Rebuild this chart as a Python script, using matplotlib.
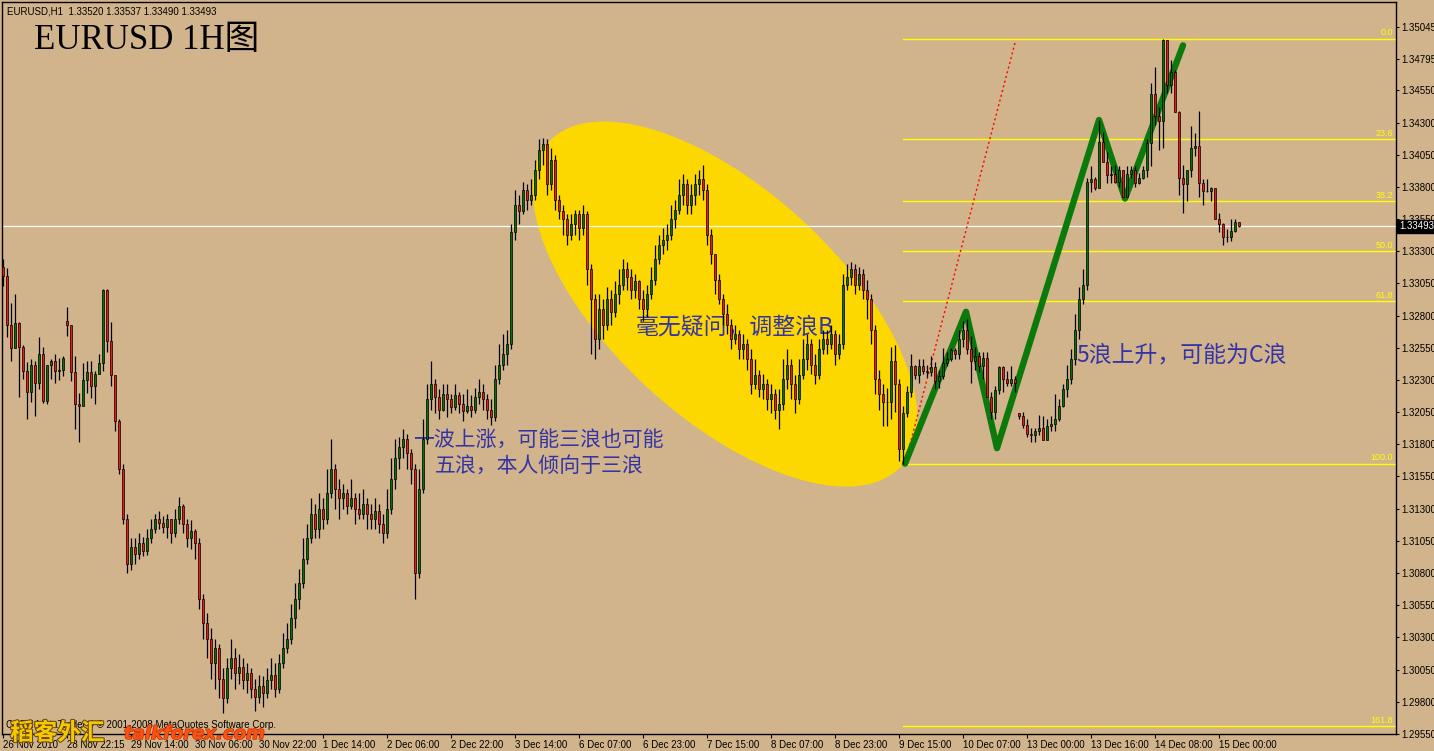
import numpy as np
import matplotlib
matplotlib.use("Agg")
import matplotlib.pyplot as plt
import matplotlib.patheffects as pe
from matplotlib.patches import Ellipse
from matplotlib.transforms import IdentityTransform, blended_transform_factory

# EURUSD H1 candles, 26 Nov 2010 .. 15 Dec 2010
closes = [
    1.3311, 1.3273, 1.3255, 1.3274, 1.3256, 1.3237, 1.3221, 1.3242, 1.3228, 1.3250,
    1.3214, 1.3242, 1.3245, 1.3237, 1.3238, 1.3247, 1.3273, 1.3236, 1.3211, 1.3210,
    1.3230, 1.3236, 1.3225, 1.3235, 1.3243, 1.3300, 1.3260, 1.3234, 1.3198, 1.3161,
    1.3122, 1.3087, 1.3100, 1.3095, 1.3103, 1.3097, 1.3107, 1.3114, 1.3122, 1.3119,
    1.3116, 1.3122, 1.3111, 1.3122, 1.3132, 1.3118, 1.3107, 1.3113, 1.3103, 1.3060,
    1.3041, 1.3029, 1.3010, 1.3022, 1.2998, 1.2983, 1.3006, 1.3014, 1.3002, 1.3007,
    1.2997, 1.3002, 1.2990, 1.2984, 1.2992, 1.2987, 1.2997, 1.3001, 1.2990, 1.3010,
    1.3022, 1.3029, 1.3045, 1.3060, 1.3072, 1.3091, 1.3107, 1.3126, 1.3114, 1.3130,
    1.3122, 1.3142, 1.3161, 1.3145, 1.3138, 1.3142, 1.3132, 1.3138, 1.3130, 1.3126,
    1.3134, 1.3126, 1.3122, 1.3128, 1.3118, 1.3111, 1.3130, 1.3153, 1.3169, 1.3178,
    1.3184, 1.3173, 1.3161, 1.3080, 1.3145, 1.3184, 1.3215, 1.3227, 1.3217, 1.3207,
    1.3219, 1.3215, 1.3209, 1.3218, 1.3211, 1.3206, 1.3210, 1.3207, 1.3217, 1.3221,
    1.3215, 1.3207, 1.3201, 1.3231, 1.3242, 1.3250, 1.3258, 1.3345, 1.3366, 1.3361,
    1.3378, 1.3370, 1.3374, 1.3393, 1.3409, 1.3413, 1.3382, 1.3401, 1.3370, 1.3361,
    1.3355, 1.3343, 1.3351, 1.3359, 1.3348, 1.3359, 1.3316, 1.3293, 1.3262, 1.3285,
    1.3273, 1.3293, 1.3283, 1.3297, 1.3304, 1.3316, 1.3310, 1.3300, 1.3307, 1.3293,
    1.3285, 1.3297, 1.3308, 1.3324, 1.3335, 1.3339, 1.3343, 1.3355, 1.3362, 1.3374,
    1.3382, 1.3366, 1.3374, 1.3382, 1.3386, 1.3378, 1.3343, 1.3328, 1.3308, 1.3293,
    1.3281, 1.3273, 1.3262, 1.3266, 1.3254, 1.3258, 1.3246, 1.3227, 1.3234, 1.3223,
    1.3227, 1.3215, 1.3219, 1.3207, 1.3211, 1.3231, 1.3242, 1.3227, 1.3215, 1.3234,
    1.3246, 1.3258, 1.3242, 1.3234, 1.3254, 1.3262, 1.3258, 1.3266, 1.3250, 1.3258,
    1.3304, 1.3310, 1.3316, 1.3304, 1.3312, 1.3300, 1.3293, 1.3269, 1.3231, 1.3219,
    1.3213, 1.3213, 1.3245, 1.3227, 1.3176, 1.3204, 1.3221, 1.3241, 1.3234, 1.3241,
    1.3237, 1.3236, 1.3240, 1.3229, 1.3233, 1.3243, 1.3246, 1.3253, 1.3250, 1.3262,
    1.3269, 1.3254, 1.3245, 1.3249, 1.3241, 1.3247, 1.3217, 1.3205, 1.3222, 1.3240,
    1.3231, 1.3228, 1.3231, 1.3228, 1.3202, 1.3195, 1.3188, 1.3187, 1.3190, 1.3193,
    1.3183, 1.3194, 1.3196, 1.3200, 1.3210, 1.3223, 1.3231, 1.3246, 1.3269, 1.3293,
    1.3304, 1.3384, 1.3386, 1.3379, 1.3415, 1.3399, 1.3389, 1.3390, 1.3384, 1.3393,
    1.3372, 1.3390, 1.3393, 1.3383, 1.3387, 1.3393, 1.3414, 1.3452, 1.3435, 1.3431,
    1.3494, 1.3459, 1.3469, 1.3438, 1.3387, 1.3382, 1.3393, 1.3410, 1.3412, 1.3383,
    1.3377, 1.3377, 1.3379, 1.3355, 1.3351, 1.3341, 1.3341, 1.3346, 1.3353, 1.33493,
]
highs = [
    1.3324, 1.3317, 1.3290, 1.3297, 1.3275, 1.3257, 1.3244, 1.3246, 1.3245, 1.3263,
    1.3256, 1.3242, 1.3246, 1.3250, 1.3247, 1.3249, 1.3287, 1.3273, 1.3249, 1.3220,
    1.3243, 1.3245, 1.3245, 1.3237, 1.3250, 1.3301, 1.3301, 1.3275, 1.3234, 1.3200,
    1.3165, 1.3126, 1.3107, 1.3107, 1.3111, 1.3108, 1.3114, 1.3122, 1.3126, 1.3128,
    1.3124, 1.3126, 1.3122, 1.3130, 1.3139, 1.3134, 1.3122, 1.3121, 1.3114, 1.3107,
    1.3064, 1.3049, 1.3037, 1.3029, 1.3025, 1.3006, 1.3014, 1.3029, 1.3022, 1.3017,
    1.3014, 1.3010, 1.3006, 1.2998, 1.3001, 1.3000, 1.3006, 1.3014, 1.3010, 1.3017,
    1.3033, 1.3041, 1.3056, 1.3072, 1.3083, 1.3107, 1.3118, 1.3138, 1.3134, 1.3142,
    1.3138, 1.3161, 1.3184, 1.3165, 1.3153, 1.3149, 1.3145, 1.3153, 1.3142, 1.3142,
    1.3145, 1.3138, 1.3134, 1.3138, 1.3134, 1.3126, 1.3145, 1.3169, 1.3184, 1.3186,
    1.3192, 1.3188, 1.3176, 1.3165, 1.3161, 1.3200, 1.3227, 1.3245, 1.3231, 1.3223,
    1.3227, 1.3227, 1.3219, 1.3227, 1.3221, 1.3219, 1.3223, 1.3218, 1.3224, 1.3231,
    1.3227, 1.3219, 1.3215, 1.3242, 1.3258, 1.3266, 1.3269, 1.3351, 1.3378, 1.3374,
    1.3384, 1.3382, 1.3386, 1.3401, 1.3417, 1.3418, 1.3417, 1.3410, 1.3405, 1.3374,
    1.3366, 1.3359, 1.3359, 1.3362, 1.3362, 1.3366, 1.3361, 1.3320, 1.3297, 1.3297,
    1.3293, 1.3302, 1.3300, 1.3307, 1.3316, 1.3324, 1.3322, 1.3316, 1.3312, 1.3308,
    1.3300, 1.3304, 1.3318, 1.3335, 1.3343, 1.3348, 1.3351, 1.3366, 1.3370, 1.3386,
    1.3390, 1.3386, 1.3382, 1.3390, 1.3393, 1.3397, 1.3382, 1.3347, 1.3328, 1.3312,
    1.3297, 1.3289, 1.3277, 1.3273, 1.3269, 1.3266, 1.3262, 1.3254, 1.3246, 1.3238,
    1.3235, 1.3231, 1.3227, 1.3223, 1.3223, 1.3246, 1.3254, 1.3246, 1.3234, 1.3246,
    1.3262, 1.3266, 1.3262, 1.3250, 1.3262, 1.3269, 1.3269, 1.3273, 1.3269, 1.3266,
    1.3312, 1.3320, 1.3322, 1.3320, 1.3318, 1.3316, 1.3308, 1.3297, 1.3273, 1.3238,
    1.3227, 1.3224, 1.3256, 1.3257, 1.3231, 1.3210, 1.3225, 1.3250, 1.3242, 1.3246,
    1.3246, 1.3242, 1.3249, 1.3244, 1.3238, 1.3255, 1.3252, 1.3255, 1.3255, 1.3269,
    1.3276, 1.3277, 1.3264, 1.3256, 1.3252, 1.3252, 1.3252, 1.3221, 1.3225, 1.3241,
    1.3241, 1.3237, 1.3241, 1.3233, 1.3203, 1.3205, 1.3200, 1.3193, 1.3193, 1.3203,
    1.3202, 1.3200, 1.3202, 1.3219, 1.3215, 1.3227, 1.3242, 1.3254, 1.3281, 1.3302,
    1.3316, 1.3387, 1.3396, 1.3388, 1.3432, 1.3423, 1.3407, 1.3396, 1.3397, 1.3396,
    1.3393, 1.3396, 1.3396, 1.3396, 1.3391, 1.3396, 1.3417, 1.3461, 1.3473, 1.3442,
    1.3495, 1.3494, 1.3479, 1.3471, 1.3439, 1.3397, 1.3393, 1.3427, 1.3422, 1.3439,
    1.3386, 1.3386, 1.3380, 1.3379, 1.3360, 1.3352, 1.3347, 1.3355, 1.3355, 1.3352,
]
lows = [
    1.3303, 1.3263, 1.3245, 1.3255, 1.3217, 1.3231, 1.3200, 1.3213, 1.3202, 1.3223,
    1.3212, 1.3211, 1.3231, 1.3228, 1.3230, 1.3233, 1.3264, 1.3229, 1.3192, 1.3182,
    1.3210, 1.3220, 1.3216, 1.3211, 1.3235, 1.3237, 1.3252, 1.3225, 1.3190, 1.3157,
    1.3118, 1.3080, 1.3082, 1.3087, 1.3091, 1.3093, 1.3094, 1.3103, 1.3111, 1.3114,
    1.3111, 1.3107, 1.3103, 1.3108, 1.3118, 1.3111, 1.3100, 1.3099, 1.3091, 1.3052,
    1.3029, 1.3014, 1.2998, 1.2990, 1.2983, 1.2971, 1.2979, 1.2998, 1.2990, 1.2994,
    1.2990, 1.2987, 1.2983, 1.2973, 1.2979, 1.2976, 1.2983, 1.2990, 1.2984, 1.2987,
    1.3006, 1.3018, 1.3025, 1.3037, 1.3052, 1.3068, 1.3087, 1.3103, 1.3107, 1.3107,
    1.3114, 1.3118, 1.3138, 1.3130, 1.3122, 1.3130, 1.3126, 1.3130, 1.3118, 1.3122,
    1.3122, 1.3114, 1.3114, 1.3114, 1.3111, 1.3103, 1.3107, 1.3126, 1.3145, 1.3161,
    1.3169, 1.3161, 1.3149, 1.3060, 1.3076, 1.3142, 1.3180, 1.3207, 1.3204, 1.3200,
    1.3206, 1.3201, 1.3204, 1.3207, 1.3204, 1.3198, 1.3204, 1.3201, 1.3204, 1.3211,
    1.3207, 1.3200, 1.3195, 1.3198, 1.3227, 1.3238, 1.3242, 1.3254, 1.3339, 1.3351,
    1.3359, 1.3362, 1.3366, 1.3370, 1.3386, 1.3397, 1.3374, 1.3378, 1.3362, 1.3355,
    1.3343, 1.3335, 1.3339, 1.3343, 1.3339, 1.3343, 1.3304, 1.3250, 1.3246, 1.3254,
    1.3262, 1.3269, 1.3273, 1.3279, 1.3289, 1.3300, 1.3300, 1.3293, 1.3294, 1.3285,
    1.3276, 1.3279, 1.3293, 1.3304, 1.3320, 1.3328, 1.3331, 1.3339, 1.3348, 1.3359,
    1.3366, 1.3359, 1.3359, 1.3366, 1.3374, 1.3370, 1.3335, 1.3320, 1.3297, 1.3289,
    1.3273, 1.3266, 1.3254, 1.3258, 1.3246, 1.3246, 1.3238, 1.3219, 1.3223, 1.3217,
    1.3215, 1.3207, 1.3204, 1.3200, 1.3192, 1.3207, 1.3223, 1.3215, 1.3204, 1.3211,
    1.3231, 1.3238, 1.3235, 1.3227, 1.3231, 1.3250, 1.3250, 1.3254, 1.3242, 1.3246,
    1.3254, 1.3300, 1.3304, 1.3297, 1.3300, 1.3293, 1.3277, 1.3258, 1.3219, 1.3207,
    1.3194, 1.3194, 1.3200, 1.3205, 1.3167, 1.3165, 1.3201, 1.3217, 1.3231, 1.3228,
    1.3235, 1.3232, 1.3233, 1.3223, 1.3224, 1.3231, 1.3241, 1.3245, 1.3246, 1.3246,
    1.3256, 1.3250, 1.3228, 1.3238, 1.3236, 1.3231, 1.3217, 1.3200, 1.3200, 1.3219,
    1.3221, 1.3225, 1.3225, 1.3221, 1.3200, 1.3193, 1.3186, 1.3182, 1.3182, 1.3187,
    1.3183, 1.3183, 1.3190, 1.3190, 1.3198, 1.3209, 1.3217, 1.3227, 1.3242, 1.3262,
    1.3289, 1.3300, 1.3376, 1.3378, 1.3379, 1.3399, 1.3383, 1.3383, 1.3383, 1.3380,
    1.3372, 1.3372, 1.3387, 1.3380, 1.3382, 1.3386, 1.3388, 1.3396, 1.3428, 1.3409,
    1.3410, 1.3453, 1.3453, 1.3438, 1.3374, 1.3360, 1.3369, 1.3388, 1.3404, 1.3372,
    1.3366, 1.3376, 1.3369, 1.3355, 1.3345, 1.3335, 1.3337, 1.3338, 1.3345, 1.3349,
]
first_open = 1.3318
gap_bars = [16, 254]          # weekend / session gaps
gap_opens = [1.3276, 1.3204]

x_tick_bars = list(range(0, 305, 16))
x_tick_labels = ["26 Nov 2010", "28 Nov 22:15", "29 Nov 14:00", "30 Nov 06:00",
                 "30 Nov 22:00", "1 Dec 14:00", "2 Dec 06:00", "2 Dec 22:00",
                 "3 Dec 14:00", "6 Dec 07:00", "6 Dec 23:00", "7 Dec 15:00",
                 "8 Dec 07:00", "8 Dec 23:00", "9 Dec 15:00", "10 Dec 07:00",
                 "13 Dec 00:00", "13 Dec 16:00", "14 Dec 08:00", "15 Dec 00:00"]
y_ticks = [1.35045, 1.34795, 1.34550, 1.34300, 1.34050, 1.33800, 1.33550, 1.33300,
           1.33050, 1.32800, 1.32550, 1.32300, 1.32050, 1.31800, 1.31550, 1.31300,
           1.31050, 1.30800, 1.30550, 1.30300, 1.30050, 1.29800, 1.29550]

fib_levels = [0.0, 23.6, 38.2, 50.0, 61.8, 100.0, 161.8]
fib_high = 1.3495
fib_low = 1.3165
fib_start_bar = 225

wave_bars = [225.5, 240.75, 248.5, 274.0, 280.5, 295.0]
wave_prices = [1.3165, 1.3283, 1.3177, 1.3432, 1.3371, 1.3490]
trend_bars = [225.5, 253.0]
trend_prices = [1.3165, 1.3492]

last_price = 1.33493
ellipse_center = (180.5, 1.3289)

BG = "#D2B48C"
GREEN = "#087008"
RED = "#ee1a1a"
NAVY = "#3434a4"
W, H = 1434, 751

plt.rcParams['font.family'] = ['Liberation Sans', 'Noto Sans CJK SC']

fig = plt.figure(figsize=(W / 100, H / 100), dpi=100, facecolor=BG)
ax = fig.add_axes([2 / W, 17 / H, 1394 / W, 732 / H])
ax.set_facecolor(BG)
ax.set_xlim(-0.25, 348.25)
ax.set_ylim(1.29549, 1.35237)
for s in ax.spines.values():
    s.set_color("black")
    s.set_linewidth(1.0)

# candles
n = len(closes)
xs = np.arange(n)
opens = [first_open] + closes[:-1]
for b, o in zip(gap_bars, gap_opens):
    opens[b] = o
o = np.array(opens)
c = np.array(closes)
hi = np.maximum(np.maximum(o, c), np.array(highs))
lo = np.minimum(np.minimum(o, c), np.array(lows))
up = c >= o

# the yellow ellipse around wave B (drawn in screen pixels so it keeps its shape)
cx, cy = ax.transData.transform(ellipse_center)
ax.add_patch(Ellipse((cx, cy), 479, 228, angle=-42.6, transform=IdentityTransform(),
                     facecolor="#FDD700", edgecolor="none", zorder=1))

# fibonacci retracement
rng = fib_high - fib_low
bt = blended_transform_factory(ax.transAxes, ax.transData)
for lev in fib_levels:
    p = fib_high - rng * lev / 100
    ax.plot([fib_start_bar, 348.25], [p, p], color="yellow", lw=1.0, zorder=2)
    ax.text(0.998, p + 0.00012, f"{lev:.1f}", transform=bt, ha="right", va="bottom",
            color="yellow", fontsize=6.5, zorder=2)

ax.axhline(last_price, color="white", lw=0.9, zorder=2)

# annotations (behind the candles like in MT4)
ax.text(102.5, 1.31835, "一波上涨，可能三浪也可能", family=["Noto Sans CJK SC"],
        fontsize=15, color=NAVY, va="center", ha="left", zorder=2.5)
ax.text(108, 1.31633, "五浪，本人倾向于三浪", family=["Noto Sans CJK SC"],
        fontsize=15, color=NAVY, va="center", ha="left", zorder=2.5)
ax.text(158.25, 1.32705, "毫无疑问，调整浪B", family=["Noto Sans CJK SC"],
        fontsize=16.5, color=NAVY, va="center", ha="left", zorder=2.5)
ax.text(268.25, 1.32493, "5浪上升，可能为C浪", family=["Noto Sans CJK SC"],
        fontsize=16.5, color=NAVY, va="center", ha="left", zorder=2.5)

ax.plot(trend_bars, trend_prices, color="red", lw=1.0, ls=(0, (1.5, 2)), zorder=2.6)
ax.plot(wave_bars, wave_prices, color="#0b7a0b", lw=4.6, solid_capstyle="round",
        solid_joinstyle="round", zorder=2.7)

ax.vlines(xs, lo, hi, color="black", lw=0.9, zorder=3)
ax.bar(xs[up], (c - o)[up], bottom=o[up], width=0.72, color=GREEN,
       edgecolor="black", linewidth=0.5, zorder=4)
ax.bar(xs[~up], (o - c)[~up], bottom=c[~up], width=0.72, color=RED,
       edgecolor="black", linewidth=0.5, zorder=4)

# axes ticks
ax.yaxis.tick_right()
ax.set_yticks(y_ticks)
ax.set_yticklabels([f"{v:.5f}" for v in y_ticks])
ax.tick_params(axis="y", direction="out", length=2.2, width=0.8, pad=1.5,
               labelsize=7, colors="black")
ax.set_xticks(x_tick_bars)
ax.set_xticklabels(x_tick_labels)
for lbl in ax.get_xticklabels():
    lbl.set_ha("left")
ax.tick_params(axis="x", direction="out", length=3, width=0.8, pad=1,
               labelsize=7, colors="black")

# current price box
ax.text(1 + 3 / 1394, last_price, "1.33493", transform=bt, ha="left", va="center",
        color="white", fontsize=7, clip_on=False, zorder=10,
        bbox=dict(facecolor="black", edgecolor="black", pad=1.2))

# header texts
fig.text(7 / W, 1 - 11 / H, "EURUSD,H1  1.33520 1.33537 1.33490 1.33493",
         fontsize=7, color="black", va="center", ha="left")
fig.text(34 / W, 1 - 40 / H, "EURUSD 1H图", family=["Liberation Serif", "Noto Sans CJK SC"],
         fontsize=25, color="black", va="center", ha="left")
fig.text(6 / W, 1 - 725 / H, "OPEN MetaTrader 4 © 2001-2008 MetaQuotes Software Corp.",
         fontsize=7, color="black", va="center", ha="left")
fig.text(10 / W, 1 - 733 / H, "稻客外汇", family=["Noto Sans CJK SC"], fontsize=17,
         fontweight="bold", color="#F6C800", va="center", ha="left",
         path_effects=[pe.withStroke(linewidth=1.5, foreground="#6a4a10")])
fig.text(124 / W, 1 - 734 / H, "talkforex.com", family=["DejaVu Sans"], fontsize=13,
         style="italic", fontweight="bold", color="#FF5010", va="center", ha="left",
         path_effects=[pe.withStroke(linewidth=1.0, foreground="#c03000")])

fig.savefig("out.png", dpi=100, facecolor=BG)
